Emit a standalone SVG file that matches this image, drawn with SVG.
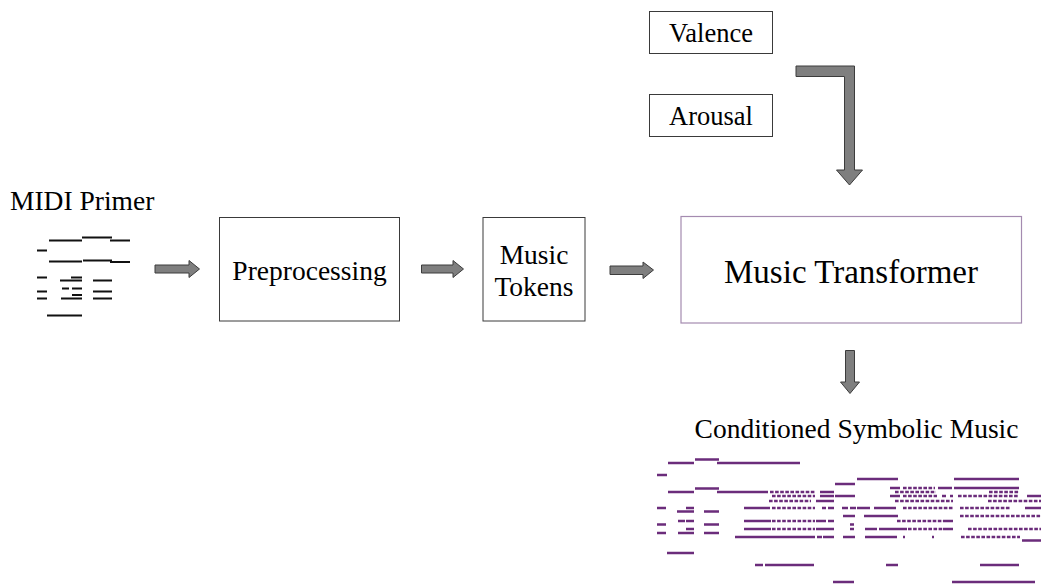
<svg xmlns="http://www.w3.org/2000/svg" width="1041" height="585" viewBox="0 0 1041 585">
  <style>
    .lbl { font-family: 'Liberation Serif', 'Times New Roman', serif; fill: #000; }
    .box { fill: #fff; stroke: #3a3a3a; stroke-width: 1; }
    .box-t { fill: #fff; stroke: #a48bb0; stroke-width: 1.2; }
    .blk { fill: #7f7f7f; stroke: #3c3c3c; stroke-width: 1; stroke-linejoin: miter; }
    .roll-k { fill: none; stroke: #111; stroke-width: 2; }
    .roll-p { fill: none; stroke: #6b2c7b; stroke-width: 2.4; }
    .dash { stroke-dasharray: 3.6 1.5; }
  </style>

  <rect width="1041" height="585" fill="#fff"/>

  <!-- input primer: label and piano roll -->
  <g id="midi-primer">
    <text class="lbl" x="10" y="210" font-size="27.5">MIDI Primer</text>
    <path class="roll-k" d="M49 240.5H82 M82 237.5H112 M110 240.5H130
      M37 250.5H47
      M49 261.5H82 M83 260.5H112 M110 262H130
      M37 277.5H47 M71 277.5H82
      M60 280.5H82 M93 280.5H112
      M62 288.5H69 M72 288.5H82
      M37 291.5H47 M93 291.5H112
      M72 295H82
      M37 298.5H47 M61 298.5H82 M93 298.5H112
      M47 315.5H82"/>
  </g>

  <g id="preprocessing">
    <rect class="box" x="219.5" y="217.5" width="180" height="103.5"/>
    <text class="lbl" x="309.5" y="280" font-size="27.5" text-anchor="middle">Preprocessing</text>
  </g>

  <g id="music-tokens">
    <rect class="box" x="483" y="217.5" width="102" height="103.5"/>
    <text class="lbl" x="534" y="264" font-size="27.5" text-anchor="middle">Music</text>
    <text class="lbl" x="534" y="296" font-size="27.5" text-anchor="middle">Tokens</text>
  </g>

  <g id="music-transformer">
    <rect class="box-t" x="681" y="216.5" width="340.5" height="106.5"/>
    <text class="lbl" x="851" y="283" font-size="33" text-anchor="middle">Music Transformer</text>
  </g>

  <g id="valence">
    <rect class="box" x="649.5" y="11.5" width="123" height="42"/>
    <text class="lbl" x="711" y="42" font-size="26.5" text-anchor="middle">Valence</text>
  </g>

  <g id="arousal">
    <rect class="box" x="649.5" y="94.5" width="123" height="42"/>
    <text class="lbl" x="711" y="125" font-size="26.5" text-anchor="middle">Arousal</text>
  </g>

  <!-- generated output: label and piano roll -->
  <g id="conditioned-output">
    <text class="lbl" x="856.5" y="438" font-size="27.5" text-anchor="middle">Conditioned Symbolic Music</text>
    <path class="roll-p" d="M695 459.5H719
      M668 463H694 M717 463H800
      M657 475H667
      M857 479H898 M954 479H1019
      M835 484H855
      M695 488.5H719 M890 488H900 M938 488H952 M954 488H1019
      M668 492H694 M717 492H768 M820 492H834
      M820 496H834 M835 496H855 M890 496H900 M942 496H946 M950 496H953 M1027 496H1041
      M816 501H834
      M657 508H666 M686 508H694 M744 508H770 M822 508H826 M828 508H834 M842 508H848 M850 508H856 M857 508H870 M874 508H896 M1025 508H1041
      M677 511.5H694 M704 511.5H719
      M843 516H855 M864 516H898
      M678 521H685 M686 521H694 M744 521H771 M816 521H826 M828 521H834 M943 521H953
      M657 524.5H666 M704 524.5H719 M850 524.5H854
      M686 529H694 M744 529H771 M816 529H834 M850 529H854 M865 529H877 M879 529H907 M943 529H953
      M657 533H666 M678 533H694 M704 533H719
      M735 537H815 M817 537H822 M823 537H834 M843 537H855 M865 537H897 M903 537H905 M932 537H934
      M1022 540.5H1041
      M667 553H694
      M755 565H763 M765 565H814 M886 565H898 M980 565H1019
      M833 582H854 M952 582H1035"/>
    <path class="roll-p dash" d="M903 488H935
      M770 492H815 M895 492H936 M989 492H1019
      M772 496H815 M903 496H937 M958 496H1019
      M769 501H811 M895 501H953 M988 501H1041
      M772 508H815 M903 508H953 M960 508H1010
      M960 516H1041
      M772 521H815 M897 521H943
      M772 529H815 M908 529H943 M968 529H1041
      M961 537H1020"/>
  </g>

  <!-- block arrows between stages -->
  <g id="connectors">
    <polygon class="blk" points="155,265 189,265 189,260.5 199.5,269 189,277.5 189,273 155,273"/>
    <polygon class="blk" points="421.5,265 453,265 453,260.5 463.5,269 453,277.5 453,273 421.5,273"/>
    <polygon class="blk" points="610,266 643,266 643,262 653.5,270 643,278.5 643,274.5 610,274.5"/>
    <polygon class="blk" points="796,66 854.5,66 854.5,170 862.5,170 849.5,185 836.5,170 844.5,170 844.5,76.5 796,76.5"/>
    <polygon class="blk" points="845.5,350.5 854.5,350.5 854.5,382 859.5,382 850,393.5 840.5,382 845.5,382"/>
  </g>
</svg>
